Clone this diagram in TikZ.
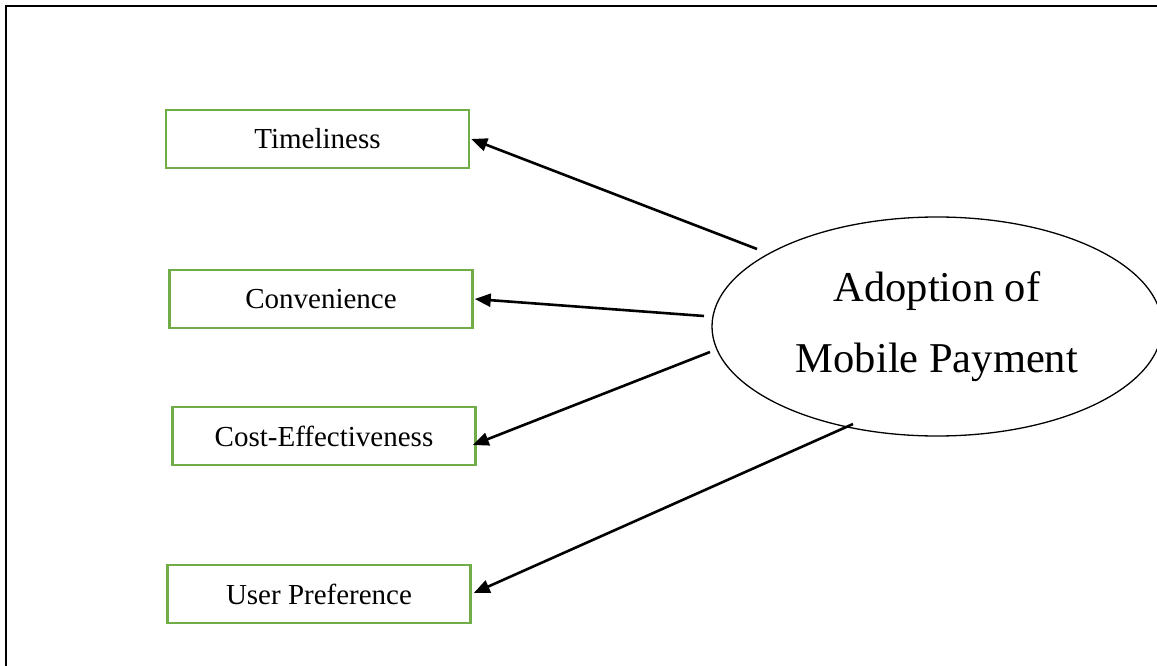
\documentclass[tikz,border=0pt]{standalone}
\usepackage{fontspec}
\setmainfont{Liberation Serif}
\usetikzlibrary{arrows.meta}
\definecolor{boxgreen}{RGB}{112,173,71}
\tikzset{
  factor/.style={draw=boxgreen, line width=2.5pt, minimum width=303pt, minimum height=58pt,
    inner sep=0pt, font=\fontsize{29}{35}\selectfont, text=black},
  central/.style={draw, ellipse, line width=1.3pt, minimum width=450pt, minimum height=219pt,
    inner sep=0pt, align=center, font=\fontsize{42.5}{71}\selectfont},
  link/.style={line width=2.6pt, -{Triangle[length=16pt, width=13pt]}},
  frame/.style={line width=2.2pt}
}
\usetikzlibrary{shapes.geometric}
\begin{document}
\begin{tikzpicture}[x=1pt, y=-1pt]
\useasboundingbox (0,0) rectangle (1157,666);
\coordinate (f1) at (1157,6);
\coordinate (f0) at (6,6);
\coordinate (f2) at (6,666);
\draw[frame] (f1) -- (f0) -- (f2);

\node[factor] (tim) at (317.5,139) {Timeliness};
\node[factor] (con) at (321,299) {Convenience};
\node[factor] (cost) at (324,436) {Cost-Effectiveness};
\node[factor] (user) at (319,594) {User Preference};

\node[central] (amp) at (937,326.5) {\raisebox{-4pt}{Adoption of}\\\raisebox{-4pt}{Mobile Payment}};

\coordinate (s1) at (757,249);
\coordinate (s2) at (704,316);
\coordinate (s3) at (710,352);
\coordinate (s4) at (853,424);

\draw[link] (s1) -- ([shift={(1,0)}]tim.east);
\draw[link] (s2) -- ([shift={(1,0)}]con.east);
\draw[link] (s3) -- ([shift={(-4,9)}]cost.east);
\draw[link] (s4) -- ([shift={(2,-1)}]user.east);
\end{tikzpicture}
\end{document}
